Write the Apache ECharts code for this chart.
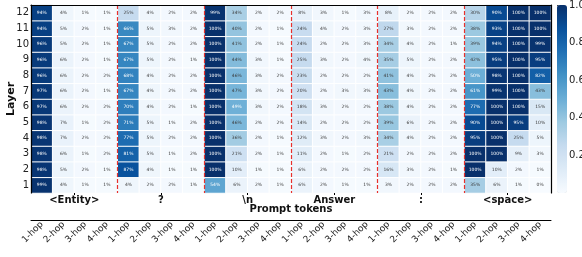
<!DOCTYPE html>
<html>
<head>
<meta charset="utf-8">
<script src="https://cdn.jsdelivr.net/npm/echarts@6/dist/echarts.min.js"></script>
<style>
  html, body { margin: 0; padding: 0; background: #fff; }
  #chart { width: 582px; height: 257px; }
</style>
</head>
<body>
<div id="chart"></div>
<script>
// prompt tokens, hops and layers
const tokens = ['<Entity>', '?', '\\n', 'Answer', ':', '<space>'];
const hops = ['1-hop', '2-hop', '3-hop', '4-hop'];
const layers = ['1', '2', '3', '4', '5', '6', '7', '8', '9', '10', '11', '12'];

// percent per token, one row per layer (layer 1 first), columns = 1..4 hop
const entityPct = [
  [99, 4, 1, 1], [98, 5, 2, 1], [98, 6, 1, 2], [98, 7, 2, 2], [98, 7, 1, 2], [97, 6, 2, 2],
  [97, 6, 2, 1], [96, 6, 2, 2], [96, 6, 2, 1], [96, 5, 2, 1], [94, 5, 2, 1], [94, 4, 1, 1]
];
const questionPct = [
  [4, 2, 2, 1], [87, 4, 1, 1], [81, 5, 1, 2], [77, 5, 2, 2], [71, 5, 1, 2], [70, 4, 2, 1],
  [67, 4, 2, 2], [68, 4, 2, 2], [67, 5, 2, 1], [67, 5, 2, 2], [66, 5, 3, 2], [25, 4, 2, 2]
];
const newlinePct = [
  [54, 6, 2, 1], [100, 10, 1, 1], [100, 21, 2, 1], [100, 36, 2, 1], [100, 46, 2, 2], [100, 49, 3, 2],
  [100, 47, 3, 2], [100, 46, 3, 2], [100, 44, 3, 1], [100, 41, 2, 1], [100, 40, 2, 1], [99, 34, 2, 2]
];
const answerPct = [
  [6, 2, 1, 1], [6, 2, 2, 2], [11, 2, 1, 2], [12, 3, 2, 3], [14, 2, 2, 2], [18, 3, 2, 2],
  [20, 2, 3, 3], [23, 2, 2, 2], [25, 3, 2, 4], [24, 2, 2, 3], [24, 4, 2, 3], [8, 3, 1, 3]
];
const colonPct = [
  [3, 2, 2, 2], [16, 3, 2, 1], [21, 2, 2, 2], [34, 4, 2, 2], [39, 6, 2, 2], [38, 4, 2, 2],
  [43, 4, 2, 2], [41, 4, 2, 2], [35, 5, 2, 2], [34, 4, 2, 1], [27, 3, 2, 2], [8, 2, 2, 2]
];
const spacePct = [
  [35, 6, 1, 0], [100, 10, 2, 1], [100, 100, 9, 3], [95, 100, 25, 5], [90, 100, 95, 10], [77, 100, 100, 15],
  [61, 99, 100, 43], [50, 98, 100, 82], [42, 95, 100, 95], [39, 94, 100, 99], [38, 93, 100, 100], [30, 90, 100, 100]
];

const colorbarTicks = [0.2, 0.4, 0.6, 0.8, 1.0];

// matplotlib "Blues"
const blues = ['#f7fbff', '#deebf7', '#c6dbef', '#9ecae1', '#6baed6', '#4292c6', '#2171b5', '#08519c', '#08306b'];

const groups = [entityPct, questionPct, newlinePct, answerPct, colonPct, spacePct];
const hopLabels = [];
tokens.forEach(() => hops.forEach(h => hopLabels.push(h)));

const cells = [];
groups.forEach((g, gi) => {
  g.forEach((row, li) => {
    row.forEach((v, hi) => {
      cells.push({
        value: [gi * 4 + hi, li, v],
        label: { color: v >= 48 ? '#fff' : '#3a3a3a' }
      });
    });
  });
});

const font = 'DejaVu Sans';
const chart = echarts.init(document.getElementById('chart'));

chart.setOption({
  animation: false,
  textStyle: { fontFamily: font },
  grid: [
    { left: 31, top: 5, width: 520, height: 188, outerBoundsMode: 'none', containLabel: false },
    { left: 557, top: 5, width: 10, height: 188, outerBoundsMode: 'none', containLabel: false }
  ],
  xAxis: [
    {
      type: 'category', gridIndex: 0, data: hopLabels, position: 'bottom', offset: 27,
      axisLine: { lineStyle: { color: '#000', width: 1 } },
      axisTick: { alignWithLabel: true, length: 3, lineStyle: { color: '#000' } },
      axisLabel: { rotate: 45, fontSize: 9, margin: 3, interval: 0, color: '#222', fontFamily: font },
      splitLine: { show: false }
    },
    {
      type: 'category', gridIndex: 0, data: tokens, position: 'bottom', z: 10,
      axisLine: { show: false },
      axisTick: { show: true, alignWithLabel: true, length: 2, lineStyle: { color: '#000' } },
      axisLabel: { fontSize: 10, fontWeight: 'bold', margin: 2, color: '#111', interval: 0, fontFamily: font },
      name: 'Prompt tokens', nameLocation: 'middle', nameGap: 11, nameMoveOverlap: false,
      nameTextStyle: { fontSize: 10, fontWeight: 'bold', color: '#111', fontFamily: font },
      splitLine: {
        show: true, showMinLine: false, showMaxLine: false,
        lineStyle: { color: '#e8302c', width: 1.2, type: [4, 2] }
      }
    },
    {
      type: 'category', gridIndex: 0, data: hopLabels, position: 'top', z: 11,
      axisLine: { lineStyle: { color: '#000', width: 1.2 } },
      axisTick: { show: false }, axisLabel: { show: false }
    },
    { type: 'value', gridIndex: 1, show: false }
  ],
  yAxis: [
    {
      type: 'category', gridIndex: 0, data: layers, position: 'left', z: 11,
      axisLine: { lineStyle: { color: '#000', width: 1.2 } },
      axisTick: { alignWithLabel: true, length: 3, lineStyle: { color: '#000' } },
      axisLabel: { fontSize: 10, margin: 2, color: '#222', fontFamily: font },
      name: 'Layer', nameLocation: 'middle', nameRotate: 90, nameGap: 14, nameMoveOverlap: false,
      nameTextStyle: { fontSize: 11, fontWeight: 'bold', color: '#111', fontFamily: font }
    },
    {
      type: 'category', gridIndex: 0, data: layers, position: 'right', z: 11,
      axisLine: { lineStyle: { color: '#000', width: 1.2 } },
      axisTick: { show: false }, axisLabel: { show: false }
    },
    {
      type: 'value', gridIndex: 1, min: 0, max: 1, interval: 0.2, position: 'right',
      axisLine: { show: false },
      axisTick: { show: true, length: 2, lineStyle: { color: '#333' } },
      axisLabel: {
        fontSize: 10, margin: 2, color: '#222', showMinLabel: false, fontFamily: font,
        formatter: v => colorbarTicks.includes(Math.round(v * 10) / 10) ? v.toFixed(1) : ''
      },
      splitLine: { show: false }
    }
  ],
  visualMap: {
    type: 'continuous', min: 0, max: 100, seriesIndex: 0, dimension: 2,
    left: 557, top: 5, itemWidth: 10, itemHeight: 188, padding: 0,
    calculable: false, text: ['', ''], hoverLink: false,
    inRange: { color: blues }
  },
  series: [
    {
      type: 'heatmap', xAxisIndex: 0, yAxisIndex: 0, data: cells,
      itemStyle: { borderColor: '#fff', borderWidth: 1 },
      label: {
        show: true, fontSize: 4.5, fontFamily: font,
        formatter: p => p.value[2] + '%'
      },
      emphasis: { disabled: true }
    }
  ]
});
</script>
</body>
</html>
